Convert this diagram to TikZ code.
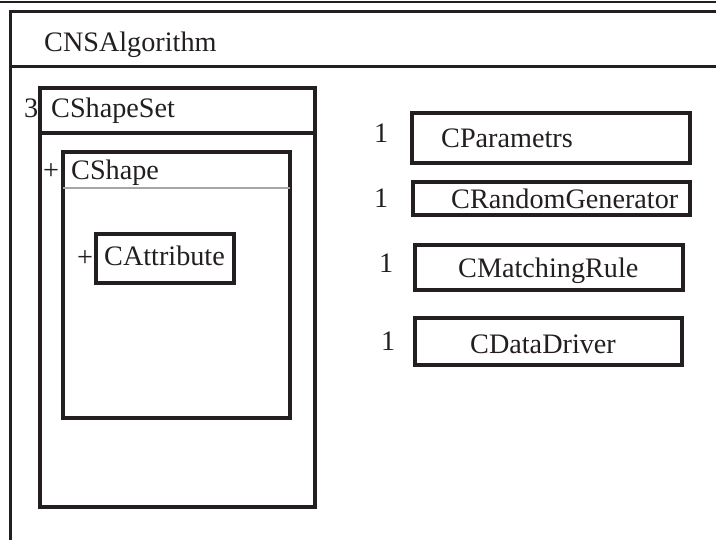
\documentclass[tikz,border=0pt]{standalone}
\usepackage{fontspec}
\setmainfont{Liberation Serif}
\definecolor{ink}{HTML}{231F20}
\tikzset{
  box/.style={draw=ink, line width=4pt, fill=none, inner sep=0pt, anchor=center},
  frame/.style={draw=ink, line width=3pt},
  lbl/.style={anchor=base west, inner sep=0pt, text=ink, font=\fontsize{28.2}{30}\selectfont},
  sep/.style={draw=gray!70, line width=1.6pt},
}
\begin{document}
\begin{tikzpicture}[x=1pt,y=-1pt]
\clip (0,0) rectangle (716,540);
\fill[white] (0,0) rectangle (716,540);
% top rule
\coordinate (tl) at (0,2);
\coordinate (tr) at (716,2);
\draw[ink, line width=2.5pt] (tl) -- (tr);
% outer frame CNSAlgorithm
\coordinate (fa) at (725,12);
\coordinate (fb) at (10,12);
\coordinate (fc) at (10,550);
\coordinate (ha) at (10,67);
\coordinate (hb) at (725,67);
\draw[frame] (fa) -- (fb) -- (fc);
\draw[frame] (ha) -- (hb);
\node[lbl] (cns) at (44,52) {CNSAlgorithm};
% CShapeSet
\node[box, minimum width=275pt, minimum height=419pt] (cshapeset) at (177.5,297.5) {};
\draw[box] ([yshift=-47pt]cshapeset.north west) -- ([yshift=-47pt]cshapeset.north east);
\node[lbl] (n3) at (24,118) {3};
\node[lbl] (cshapesetl) at (51,118) {CShapeSet};
% CShape
\node[box, minimum width=227pt, minimum height=266pt] (cshape) at (176.5,285) {};
\draw[sep] ([xshift=2pt,yshift=-38pt]cshape.north west) -- ([xshift=-2pt,yshift=-38pt]cshape.north east);
\node[lbl] (p1) at (43,180) {+};
\node[lbl] (cshapel) at (71,180) {CShape};
% CAttribute
\node[box, minimum width=138pt, minimum height=49pt] (cattr) at (165,258.5) {};
\node[lbl] (p2) at (77,267) {+};
\node[lbl] (cattrl) at (104,266) {CAttribute};
% right column
\node[box, minimum width=278pt, minimum height=50pt] (cpar) at (551,138) {};
\node[lbl] (m1) at (374,143) {1};
\node[lbl] (cparl) at (441,148) {CParametrs};
\node[box, minimum width=277pt, minimum height=33pt] (crand) at (551.5,198.5) {};
\node[lbl] (m2) at (374,208) {1};
\node[lbl] (crandl) at (451,209) {CRandomGenerator};
\node[box, minimum width=268pt, minimum height=45pt] (cmatch) at (549,267.5) {};
\node[lbl] (m3) at (379,273) {1};
\node[lbl] (cmatchl) at (458,278) {CMatchingRule};
\node[box, minimum width=267pt, minimum height=47pt] (cdata) at (548.5,341.5) {};
\node[lbl] (m4) at (381,351) {1};
\node[lbl] (cdatal) at (470,354) {CDataDriver};
\end{tikzpicture}
\end{document}
